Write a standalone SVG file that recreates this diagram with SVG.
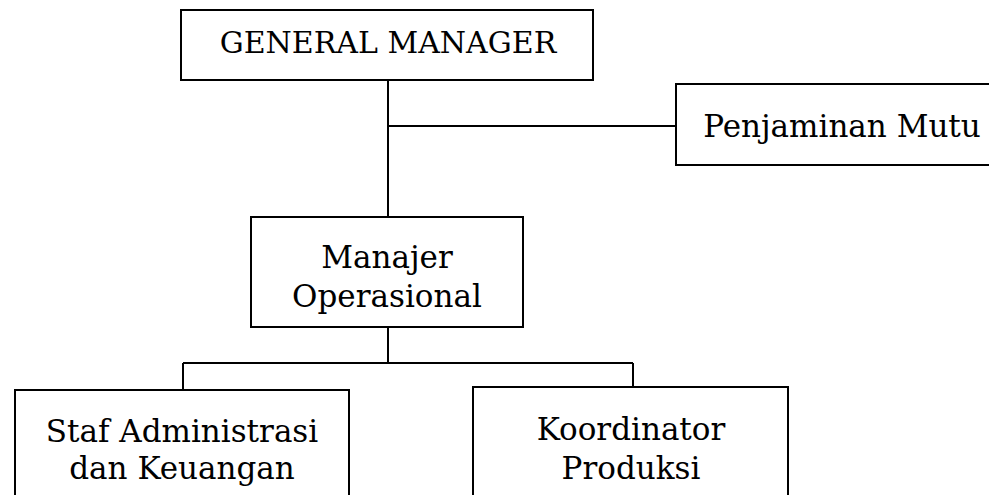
<svg xmlns="http://www.w3.org/2000/svg" width="989" height="495" viewBox="0 0 989 495">
<style>
.box{fill:#fff;stroke:#000;stroke-width:2}
.ln{fill:none;stroke:#000;stroke-width:2}
text{font-family:"DejaVu Serif","Liberation Serif",serif;font-size:31px;fill:#000;text-anchor:middle}
.cap{font-size:30px}
</style>
<rect width="989" height="495" fill="#fff"/>
<g id="connectors">
<path class="ln" d="M388 80V217"/>
<path class="ln" d="M388 126H676"/>
<path class="ln" d="M388 327V363"/>
<path class="ln" d="M183 363H633"/>
<path class="ln" d="M183 363V390"/>
<path class="ln" d="M633 363V387"/>
</g>
<g id="gm">
<rect class="box" x="181" y="10" width="412" height="70"/>
<text class="cap" x="388" y="53">GENERAL MANAGER</text>
</g>
<g id="pm">
<rect class="box" x="676" y="84" width="330" height="81"/>
<text x="842" y="137">Penjaminan Mutu</text>
</g>
<g id="mo">
<rect class="box" x="251" y="217" width="272" height="110"/>
<text x="387" y="268">Manajer</text>
<text x="387" y="307">Operasional</text>
</g>
<g id="sak">
<rect class="box" x="15" y="390" width="334" height="120"/>
<text x="182" y="442">Staf Administrasi</text>
<text x="182" y="479">dan Keuangan</text>
</g>
<g id="kp">
<rect class="box" x="473" y="387" width="315" height="120"/>
<text x="631" y="440">Koordinator</text>
<text x="631" y="479">Produksi</text>
</g>
</svg>
